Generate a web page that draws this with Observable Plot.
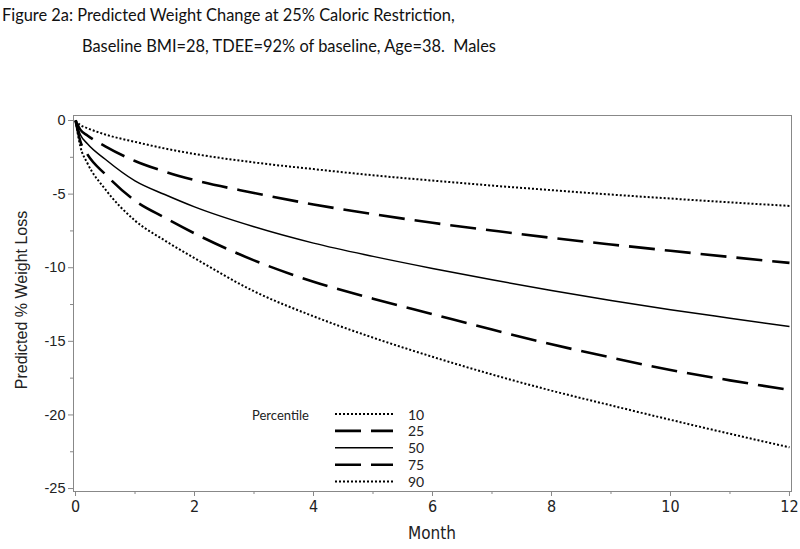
<!DOCTYPE html>
<html><head><meta charset="utf-8">
<script src="https://cdn.jsdelivr.net/npm/d3@7"></script>
<script src="https://cdn.jsdelivr.net/npm/@observablehq/plot@0.6"></script>
<style>
body{margin:0;background:#fff;width:800px;height:549px;position:relative;overflow:hidden;}
.t{position:absolute;font-family:Lato,"Noto Sans",sans-serif;font-size:16.4px;color:#111;white-space:pre;line-height:1;}
#chart{position:absolute;left:0;top:60px;}
#ylab{position:absolute;left:22px;top:300px;transform:translate(-50%,-50%) rotate(-90deg);font-family:"Liberation Sans",Arial,sans-serif;font-size:16px;color:#222;white-space:nowrap;}
#xlab{position:absolute;left:432px;top:533px;transform:translate(-50%,-50%);font-family:"Liberation Sans Narrow","DejaVu Sans Condensed","DejaVu Sans",sans-serif;font-stretch:condensed;font-size:17px;color:#222;}
#legend{position:absolute;left:240px;top:400px;}
</style></head><body>
<div class="t" style="left:2px;top:7px">Figure 2a: Predicted Weight Change at 25% Caloric Restriction,</div>
<div class="t" style="left:82px;top:38px">Baseline BMI=28, TDEE=92% of baseline, Age=38.  Males</div>
<div id="chart"></div>
<div id="ylab">Predicted % Weight Loss</div>
<div id="xlab">Month</div>
<svg id="legend" width="200" height="100"></svg>
<script>
const months = [0, 0.08, 0.2, 0.5, 1, 1.5, 2, 3, 4, 5, 6, 7, 8, 9, 10, 11, 12];
const p10 = [0, -0.3, -0.52, -0.95, -1.45, -1.9, -2.27, -2.85, -3.3, -3.72, -4.08, -4.42, -4.73, -5.03, -5.3, -5.56, -5.8];
const p25 = [0, -0.62, -1.02, -1.75, -2.75, -3.47, -4.05, -4.92, -5.7, -6.36, -6.95, -7.47, -7.97, -8.42, -8.85, -9.27, -9.67];
const p50 = [0, -0.95, -1.58, -2.63, -4.1, -5.03, -5.87, -7.22, -8.33, -9.23, -10.05, -10.82, -11.55, -12.22, -12.85, -13.43, -14.0];
const p75 = [0, -1.4, -2.3, -3.65, -5.45, -6.6, -7.67, -9.5, -10.95, -12.1, -13.15, -14.2, -15.2, -16.1, -16.95, -17.65, -18.3];
const p90 = [0, -1.75, -2.9, -4.67, -6.8, -8.15, -9.35, -11.6, -13.3, -14.75, -16.05, -17.25, -18.35, -19.35, -20.33, -21.28, -22.2];
const percentiles = ["10", "25", "50", "75", "90"];
const xTicks = [0, 2, 4, 6, 8, 10, 12];
const xMinor = [1, 3, 5, 7, 9, 11];
const yTicks = [0, -5, -10, -15, -20, -25];
const yMinor = [-2.5, -7.5, -12.5, -17.5, -22.5];
const legendTitle = "Percentile";

const series = [p10, p25, p50, p75, p90];
const rows = percentiles.flatMap((p, i) => months.map((m, j) => ({p, month: m, value: series[i][j]})));
const styles = {
  "10": {w: 2, dash: "2,2"},
  "25": {w: 2.6, dash: "26,10"},
  "50": {w: 1.5, dash: null},
  "75": {w: 2.6, dash: "26,10"},
  "90": {w: 2, dash: "2,2"}
};

const fmt = d => String(d);
const chart = Plot.plot({
  width: 800, height: 489,
  marginTop: 55, marginBottom: 58, marginLeft: 73, marginRight: 9,
  x: {domain: [-0.034, 12.034]},
  y: {domain: [-25.2, 0.34]},
  style: {background: "#fff", fontFamily: "'Liberation Sans', Arial, sans-serif"},
  marks: [
    Plot.frame({stroke: "#888"}),
    Plot.axisY({ticks: yTicks, tickFormat: fmt, tickSize: 5, tickPadding: 3, label: null, fontSize: 14.5, stroke: "#888", fill: "#222"}),
    Plot.axisY({ticks: yMinor, tickSize: 3, text: null, label: null, stroke: "#888"}),
    Plot.axisX({ticks: xTicks, tickFormat: fmt, tickSize: 5, tickPadding: 4, label: null, fontSize: 16,
      fontFamily: "'Liberation Sans Narrow', 'DejaVu Sans Condensed', 'DejaVu Sans', sans-serif", fontStretch: "condensed", stroke: "#888", fill: "#222"}),
    Plot.axisX({ticks: xMinor, tickSize: 3, text: null, label: null, stroke: "#888"}),
    ...percentiles.map(p => Plot.line(rows.filter(d => d.p === p), {
      x: "month", y: "value", stroke: "#000", strokeWidth: styles[p].w,
      strokeDasharray: styles[p].dash, curve: "monotone-x", strokeLinecap: "butt"
    }))
  ]
});
document.getElementById("chart").appendChild(chart);

// legend
const lg = d3.select("#legend");
lg.append("text").attr("x", 12).attr("y", 17).attr("dominant-baseline", "middle")
  .style("font-family", "Lato, sans-serif").style("font-size", "13px").attr("fill", "#222").text(legendTitle);
percentiles.forEach((p, i) => {
  const y = 14 + i * 16.9;
  lg.append("line").attr("x1", 95).attr("x2", 153).attr("y1", y).attr("y2", y)
    .attr("stroke", "#000").attr("stroke-width", styles[p].w)
    .attr("stroke-dasharray", styles[p].dash || null);
  lg.append("text").attr("x", 168).attr("y", y + 2).attr("dominant-baseline", "middle")
    .style("font-family", "Lato, sans-serif").style("font-size", "14px").attr("fill", "#222").text(p);
});
</script>
</body></html>
